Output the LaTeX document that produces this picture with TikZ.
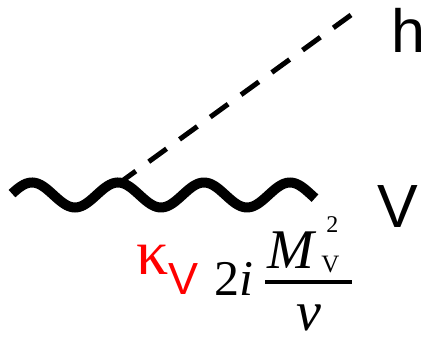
\documentclass[tikz,border=0pt]{standalone}
\usepackage{fontspec}
\setmainfont{Liberation Serif}
\setsansfont{Liberation Sans}
\usetikzlibrary{positioning}
\definecolor{CouplingRed}{RGB}{255,0,0}
\tikzset{
  boson/.style  ={line width=10pt, draw=black},
  scalar/.style ={line width=5pt, draw=black, dash pattern=on 22pt off 16pt},
  plabel/.style ={font=\sffamily\fontsize{61}{61}\selectfont, inner sep=0pt, anchor=base west},
  kap/.style    ={text=CouplingRed, font=\fontsize{64}{64}\selectfont, inner sep=0pt, anchor=base west},
  coup/.style   ={font=\fontsize{50}{50}\selectfont, inner sep=0pt, anchor=base west},
}

\begin{document}
\begin{tikzpicture}[x=1pt,y=1pt]
  \useasboundingbox (0,0) rectangle (426,339);
  % vertex and end of the scalar line
  \coordinate (vtx) at (118,155);
  \coordinate (hend) at (351,324);
  \draw[boson] plot[domain=12:315, samples=150, smooth] (\x,{144+12.5*cos((\x-32)/86*360)});
  \draw[scalar] (vtx) -- (hend);
  \node[plabel] (h) at (391,286) {h};
  \node[plabel] (V) at (377,111) {V};
  \node[kap] (kappa) at (136,64) {κ\raisebox{-20pt}{\sffamily\fontsize{45}{45}\selectfont V}};
  \node[coup] (coef) at (214,43) {2\textit{i}};
  \node[coup] (frac) at (265,8) {\renewcommand\arraystretch{0.1}\setlength\arrayrulewidth{4pt}%
    \begin{tabular}[b]{@{}c@{}}
      \makebox[87pt][l]{\fontsize{56}{56}\selectfont\kern2pt\textit{M}\kern5pt\rlap{\kern5pt\raisebox{36pt}{\fontsize{24}{24}\selectfont 2}}\raisebox{-4pt}{\fontsize{25}{25}\selectfont V}}\rule[-11pt]{0pt}{11pt}\\
      \hline
      \rule{0pt}{47pt}\fontsize{56}{56}\selectfont\textit{v}
    \end{tabular}};
\end{tikzpicture}
\end{document}
